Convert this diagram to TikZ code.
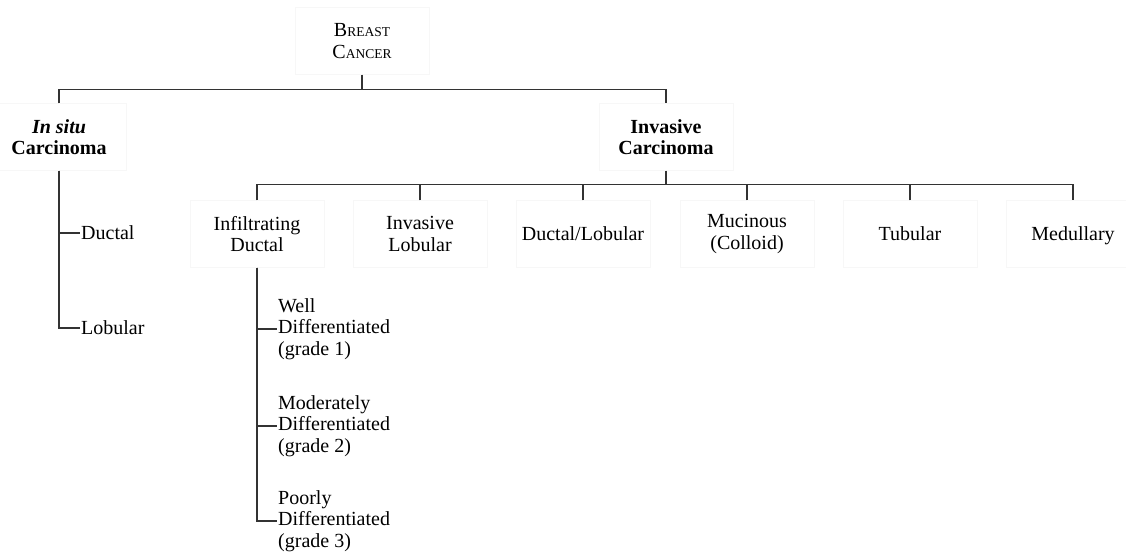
\documentclass[tikz,border=0pt]{standalone}
\usepackage{fontspec}
\setmainfont{Liberation Serif}
\usepackage{tikz}
\usetikzlibrary{positioning,calc}
\newcommand{\fakesc}[1]{{\fontsize{13.5}{14}\selectfont #1}}

\begin{document}
\begin{tikzpicture}[x=1pt, y=-1pt, font=\fontsize{20}{21.5}\selectfont]
  % styles
  \tikzstyle{cat}=[rectangle, draw=black!3, minimum width=134pt, minimum height=67pt, align=center, inner sep=2pt];
  \tikzstyle{leaf}=[anchor=west, align=left, inner sep=1pt];
  \tikzstyle{link}=[draw=black!80, line width=1.4pt];
  \useasboundingbox (0,0) rectangle (1126,551);

  %==================== TOP LEVEL ====================
  \node[cat] (breast) at (362,41) {B\fakesc{REAST}\\C\fakesc{ANCER}};
  \node[cat, font=\fontsize{20}{21}\selectfont\bfseries] (insitu) at (59,137) {\textit{In situ}\\Carcinoma};
  \node[cat, font=\fontsize{20}{21}\selectfont\bfseries] (invasive) at (666,137) {Invasive\\Carcinoma};
  \coordinate (split1) at ($(breast.south)+(0,15)$);
  % arrows
  \draw[link] (breast.south) -- (split1);
  \draw[link] (insitu.north) |- (split1) -| (invasive.north);

  %==================== IN SITU ====================
  \node[leaf] (dcis) at (80,233) {Ductal};
  \node[leaf] (lcis) at (80,328) {Lobular};
  \draw[link] (insitu.south) |- (dcis.west);
  \draw[link] (insitu.south) |- (lcis.west);

  %==================== INVASIVE ====================
  \node[cat] (idc) at (257,234) {Infiltrating\\Ductal};
  \node[cat] (ilc) at (420,234) {Invasive\\Lobular};
  \node[cat] (mixed) at (583,234) {Ductal/Lobular};
  \node[cat] (muc) at (747,234) {Mucinous\\(Colloid)};
  \node[cat] (tub) at (910,234) {Tubular};
  \node[cat, text depth=0pt] (med) at (1073,234) {Medullary};
  \coordinate (split2) at ($(invasive.south)+(0,14)$);
  % arrows
  \draw[link] (invasive.south) -- (split2);
  \draw[link] (idc.north) |- (split2) -| (med.north);
  \draw[link] (ilc.north) -- (ilc.north |- split2);
  \draw[link] (mixed.north) -- (mixed.north |- split2);
  \draw[link] (muc.north) -- (muc.north |- split2);
  \draw[link] (tub.north) -- (tub.north |- split2);

  %==================== GRADES ====================
  \node[leaf] (g1) at (277,329) {Well\\Differentiated\\(grade 1)};
  \node[leaf] (g2) at (277,426) {Moderately\\Differentiated\\(grade 2)};
  \node[leaf] (g3) at (277,521) {Poorly\\Differentiated\\(grade 3)};
  \draw[link] (idc.south) |- (g1.west);
  \draw[link] (idc.south) |- (g2.west);
  \draw[link] (idc.south) |- (g3.west);
\end{tikzpicture}
\end{document}
